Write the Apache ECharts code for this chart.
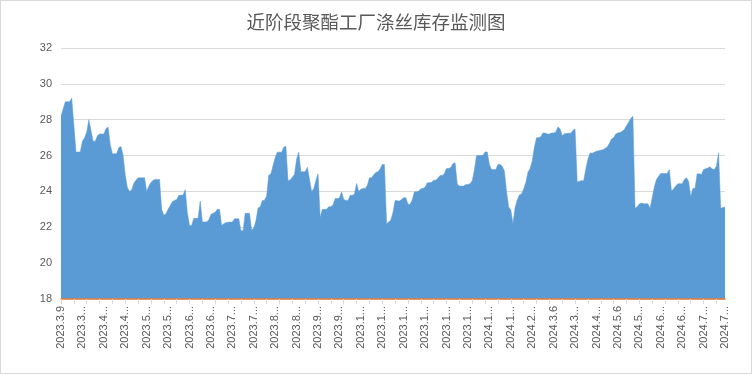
<!DOCTYPE html>
<html>
<head>
<meta charset="utf-8">
<script src="https://cdn.jsdelivr.net/npm/echarts@6/dist/echarts.min.js"></script>
<style>
html,body{margin:0;padding:0;background:#fff;}
#chart{width:752px;height:374px;box-sizing:border-box;border:1px solid #d9d9d9;}
</style>
</head>
<body>
<div id="chart"></div>
<script>
const titleText = '近阶段聚酯工厂涤丝库存监测图';

const tickLabels = [
  '2023.3.9','2023.3...','2023.4...','2023.4...','2023.5...','2023.5...','2023.6...','2023.6...',
  '2023.7...','2023.7...','2023.8...','2023.8...','2023.9...','2023.9...','2023.1...','2023.1...',
  '2023.1...','2023.1...','2023.1...','2023.1...','2024.1...','2024.1...','2024.2...','2024.3.6',
  '2024.3...','2024.4...','2024.5.6','2024.5...','2024.6...','2024.6...','2024.7...','2024.7...'
];

const inventory = [
  28.2, 28.6, 29.0, 29.0, 29.0, 29.2, 27.7, 26.2, 26.2, 26.2,
  26.8, 27.0, 27.3, 28.0, 27.4, 26.8, 26.8, 27.1, 27.2, 27.2,
  27.2, 27.5, 27.6, 26.6, 26.1, 26.1, 26.1, 26.45, 26.5, 26.0,
  24.9, 24.2, 24.0, 24.08, 24.46, 24.63, 24.76, 24.76, 24.76, 24.76,
  24.0, 24.3, 24.5, 24.62, 24.67, 24.67, 24.67, 23.0, 22.67, 22.75,
  23.0, 23.22, 23.43, 23.5, 23.55, 23.78, 23.78, 23.8, 24.1, 22.8,
  22.1, 22.1, 22.5, 22.5, 22.5, 23.46, 22.3, 22.3, 22.3, 22.42,
  22.72, 22.78, 22.84, 23.0, 23.0, 22.1, 22.2, 22.27, 22.28, 22.29,
  22.3, 22.48, 22.48, 22.48, 21.8, 21.8, 22.78, 22.78, 22.78, 21.85,
  21.96, 22.36, 23.08, 23.15, 23.5, 23.5, 23.74, 24.9, 24.98, 25.45,
  25.89, 26.19, 26.19, 26.19, 26.47, 26.52, 24.6, 24.64, 24.79, 24.95,
  25.8, 26.19, 25.1, 25.1, 25.1, 25.35, 24.7, 24.0, 24.15, 24.6,
  24.98, 22.54, 23.0, 23.0, 23.0, 23.15, 23.15, 23.25, 23.6, 23.6,
  23.63, 23.98, 23.55, 23.5, 23.5, 23.78, 23.78, 23.84, 24.44, 24.0,
  24.12, 24.17, 24.17, 24.33, 24.76, 24.76, 24.93, 25.06, 25.1, 25.25,
  25.5, 25.5, 22.2, 22.3, 22.4, 22.84, 23.5, 23.48, 23.46, 23.55,
  23.65, 23.65, 23.28, 23.28, 23.53, 23.98, 23.98, 24.02, 24.15, 24.17,
  24.23, 24.48, 24.48, 24.51, 24.63, 24.63, 24.75, 24.89, 24.89, 25.0,
  25.28, 25.28, 25.34, 25.54, 25.6, 24.4, 24.3, 24.3, 24.3, 24.39,
  24.39, 24.43, 24.6, 25.2, 26.0, 26.0, 26.0, 26.02, 26.2, 26.2,
  25.5, 25.22, 25.22, 25.22, 25.5, 25.5, 25.4, 25.14, 24.0, 23.13,
  22.96, 22.2, 23.1, 23.52, 23.8, 23.86, 24.13, 24.5, 25.07, 25.28,
  25.7, 26.45, 27.0, 27.0, 27.05, 27.26, 27.26, 27.2, 27.2, 27.26,
  27.26, 27.32, 27.6, 27.5, 27.1, 27.22, 27.23, 27.24, 27.25, 27.4,
  27.48, 24.52, 24.57, 24.6, 24.6, 25.24, 25.8, 26.15, 26.13, 26.19,
  26.24, 26.27, 26.3, 26.33, 26.4, 26.48, 26.67, 26.92, 27.0, 27.2,
  27.26, 27.28, 27.35, 27.45, 27.67, 27.86, 28.07, 28.2, 23.06, 23.15,
  23.3, 23.35, 23.31, 23.31, 23.31, 23.06, 23.64, 24.25, 24.67, 24.85,
  25.0, 25.0, 25.0, 25.0, 25.22, 24.02, 24.14, 24.3, 24.43, 24.43,
  24.43, 24.66, 24.76, 24.57, 23.7, 24.17, 24.17, 24.98, 24.98, 24.94,
  25.22, 25.27, 25.31, 25.37, 25.25, 25.22, 25.4, 26.15, 23.06, 23.1,
  23.13
];

const yMin = 18, yMax = 32, yStep = 2;
const labelEvery = 10, tickEvery = 6;

const categories = inventory.map((_, i) => (i % labelEvery === 0 ? tickLabels[i / labelEvery] : ''));

const chart = echarts.init(document.getElementById('chart'), null, {renderer: 'canvas'});
chart.setOption({
  animation: false,
  backgroundColor: '#ffffff',
  title: {
    text: titleText,
    left: 'center',
    top: 7,
    textStyle: {
      fontFamily: '"Noto Sans CJK SC", sans-serif',
      fontSize: 18.5,
      fontWeight: 'normal',
      color: '#595959'
    }
  },
  grid: {left: 60, right: 26, top: 47, bottom: 74, containLabel: false},
  xAxis: {
    type: 'category',
    data: categories,
    boundaryGap: false,
    z: 5,
    axisLine: {lineStyle: {color: '#ED7D31', width: 1.5}},
    axisTick: {show: true, interval: tickEvery - 1, length: 5, lineStyle: {color: '#d9d9d9'}},
    axisLabel: {
      interval: labelEvery - 1,
      rotate: 90,
      margin: 7,
      fontSize: 11,
      fontFamily: '"Liberation Sans", Arial, sans-serif',
      color: '#595959'
    },
    splitLine: {show: false}
  },
  yAxis: {
    type: 'value',
    min: yMin,
    max: yMax,
    interval: yStep,
    axisLine: {show: false},
    axisTick: {show: false},
    axisLabel: {
      margin: 9,
      fontSize: 11,
      fontFamily: '"Liberation Sans", Arial, sans-serif',
      color: '#595959'
    },
    splitLine: {lineStyle: {color: '#d9d9d9', width: 1}}
  },
  series: [{
    type: 'line',
    name: '涤丝库存',
    data: inventory,
    symbol: 'none',
    lineStyle: {width: 0.5, color: '#5B9BD5'},
    areaStyle: {color: '#5B9BD5', opacity: 1},
    itemStyle: {color: '#5B9BD5'}
  }]
});
</script>
</body>
</html>
